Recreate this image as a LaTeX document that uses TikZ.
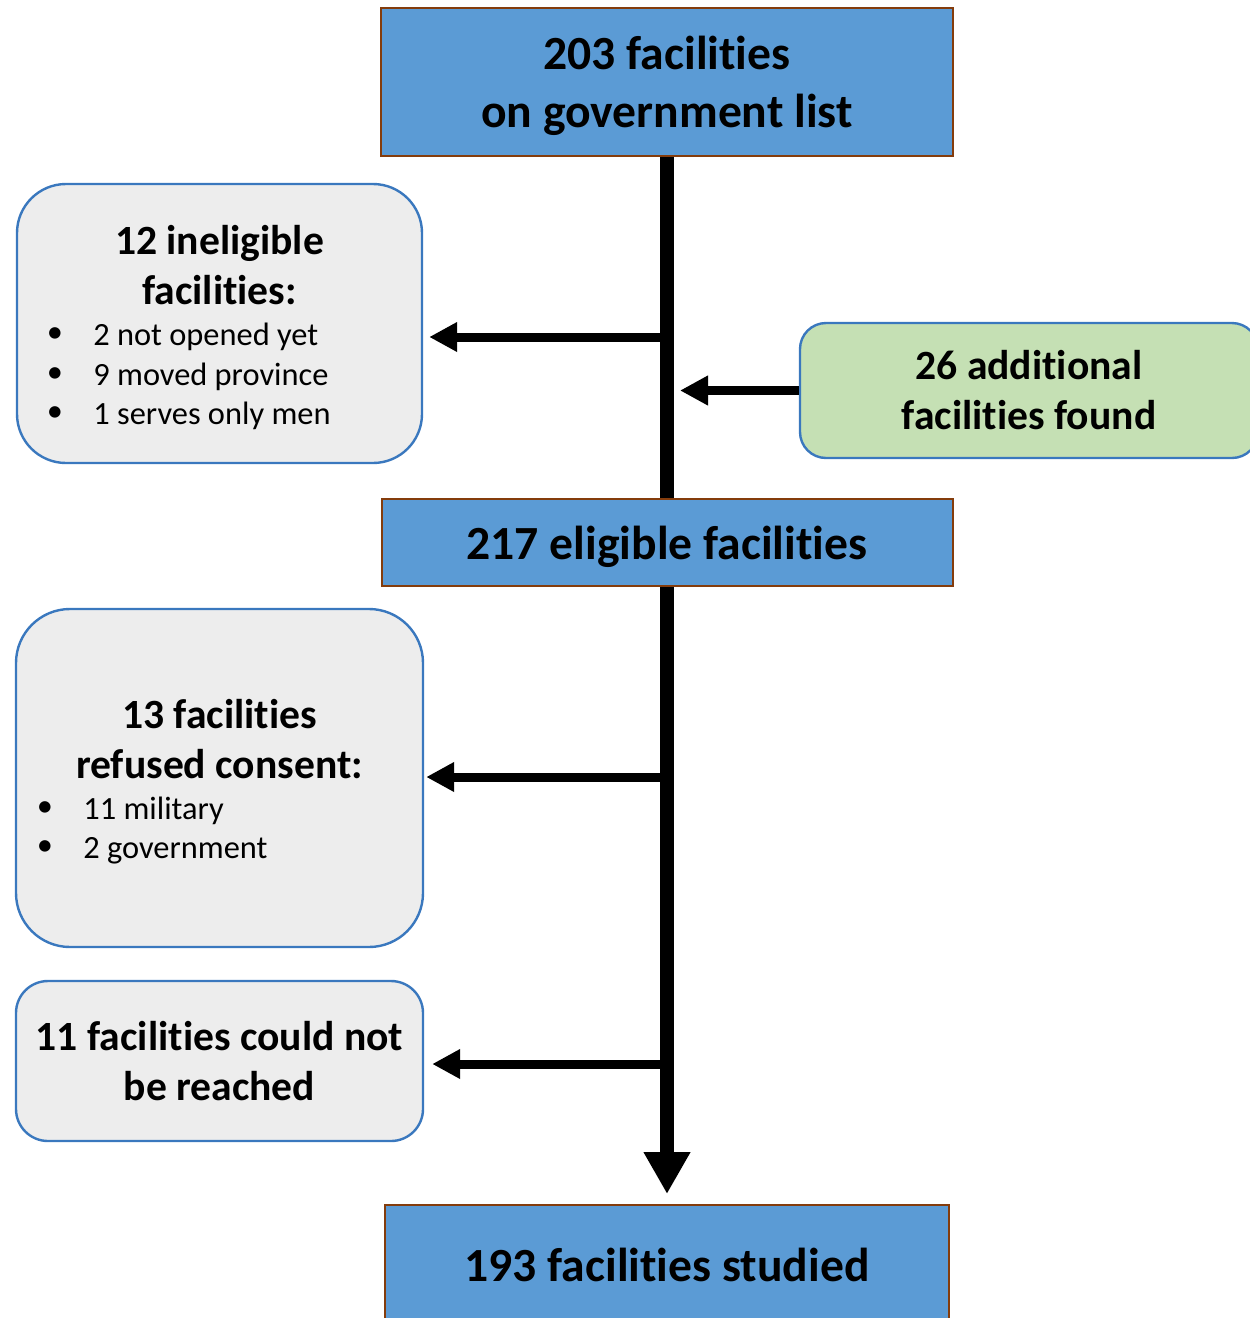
\documentclass[tikz,border=0pt]{standalone}
\usepackage{fontspec}
\setmainfont{Carlito}[RawFeature={-liga;-clig;-calt;-dlig}]
\usetikzlibrary{arrows.meta}

\definecolor{boxblue}{HTML}{5B9BD5}
\definecolor{boxbrown}{HTML}{843C0C}
\definecolor{boxgrey}{HTML}{EDEDED}
\definecolor{boxline}{HTML}{3A78BE}
\definecolor{boxgreen}{HTML}{C5E0B4}

\tikzset{
    mainbox/.style={draw=boxbrown, fill=boxblue, line width=1pt, align=center, text depth=0pt,
        font=\fontsize{23.8pt}{29pt}\selectfont\bfseries},
    sidebox/.style={draw=boxline, fill=boxgrey, line width=1.2pt},
    head/.style={align=center, font=\fontsize{20.8pt}{25pt}\selectfont\bfseries},
    item/.style={inner sep=0pt, font=\fontsize{16.2pt}{19.75pt}\selectfont},
    dot/.style={inner sep=0pt, font=\fontsize{16.2pt}{19.75pt}\selectfont},
    trunk/.style={line width=7pt},
    side/.style={line width=4.5pt, -{Triangle[width=14pt,length=14pt]}}
}

\begin{document}
\begin{tikzpicture}[x=0.5pt, y=-0.5pt]
    \useasboundingbox (0,0) rectangle (1249,1318);

    % boxes on the main line
    \node[mainbox, minimum width=286pt, minimum height=74pt] (listed) at (667,82) {203 facilities\\on government list};
    \node[mainbox, minimum width=285.5pt, minimum height=43.5pt] (eligible) at (667,542.5) {217 eligible facilities};
    \node[mainbox, minimum width=282pt, minimum height=60pt] (studied) at (667,1265) {193 facilities studied};

    % side boxes
    \node[sidebox, rounded corners=24.5pt, minimum width=202.5pt, minimum height=139.5pt] (inel) at (219.5,323.5) {};
    \node[sidebox, rounded corners=27pt, minimum width=203.5pt, minimum height=169pt] (refused) at (219.5,778) {};
    \node[sidebox, rounded corners=16pt, minimum width=203.5pt, minimum height=80pt, head] (unreach) at (219.5,1061) {11 facilities could not\\be reached};
    \node[sidebox, rounded corners=13pt, fill=boxgreen, minimum width=229pt, minimum height=67.5pt, head, text depth=1pt] (found) at (1029,390.5) {26 additional\\facilities found};

    \node[head] (inel-head) at (219.5,265) {12 ineligible\\facilities:};
    \node[head] (refused-head) at (219.5,739) {13 facilities\\refused consent:};

    \foreach \txt [count=\i] in {2 not opened yet, 9 moved province, 1 serves only men} {
        \node[dot] (inel-b\i) at (55,296+39.5*\i) {•};
        \node[item, anchor=base west] (inel-t\i) at (93,306+39.5*\i) {\txt};
    }
    \foreach \txt [count=\i] in {11 military, 2 government} {
        \node[dot] (refused-b\i) at (45,770+39*\i) {•};
        \node[item, anchor=base west] (refused-t\i) at (83,780+39*\i) {\txt};
    }

    % junctions on the main line
    \coordinate (j1) at (667,337);
    \coordinate (j2) at (680,390.5);
    \coordinate (j3) at (667,777);
    \coordinate (j4) at (667,1064);

    \draw[side, shorten >=3pt] (j1) -- (j1 -| inel.east);
    \draw[side] (found) -- (j2);
    \draw[side, shorten >=1pt] (j3) -- (j3 -| refused.east);
    \draw[side, shorten >=4pt] (j4) -- (j4 -| unreach.east);

    \draw[trunk] (listed) -- (eligible);
    \draw[trunk, -{Triangle[width=22pt,length=21pt]}, shorten >=5pt] (eligible) -- (studied);
\end{tikzpicture}
\end{document}
